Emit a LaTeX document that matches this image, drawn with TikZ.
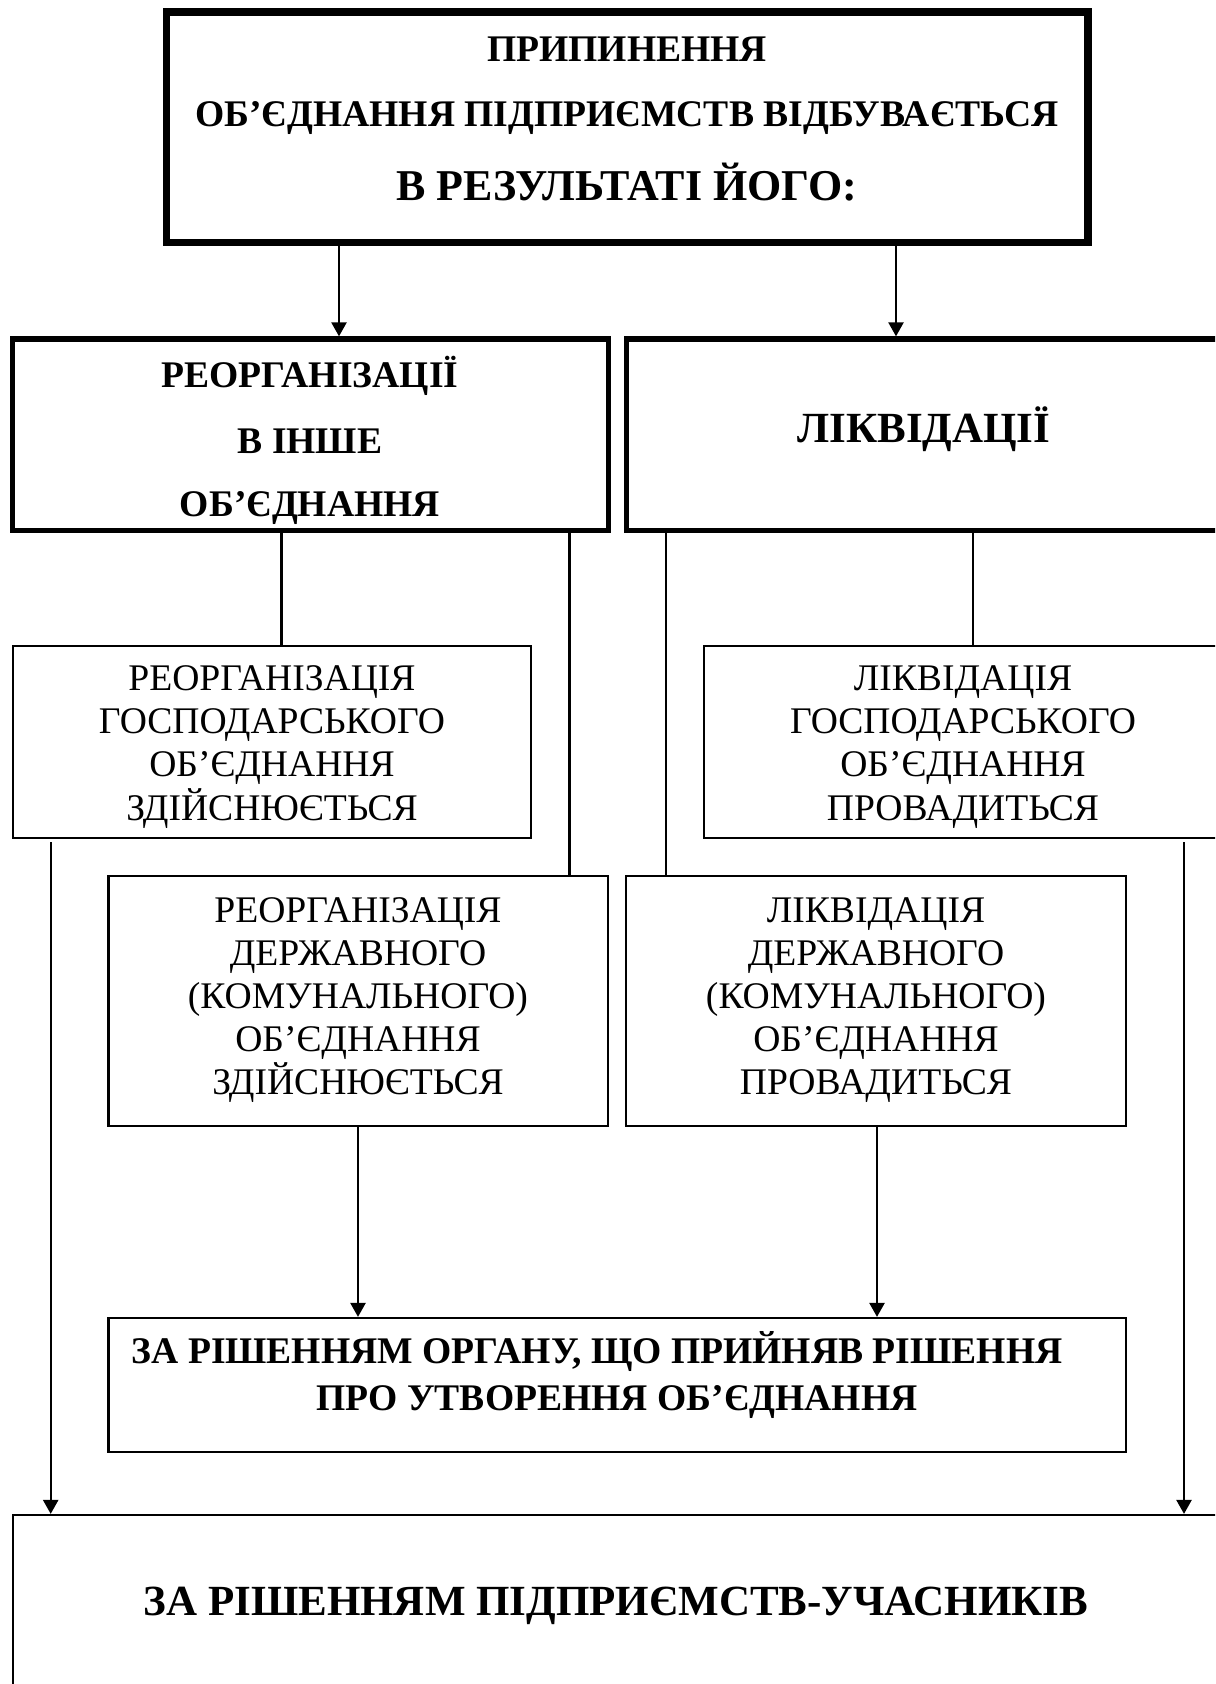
\documentclass[tikz,border=0pt]{standalone}
\usepackage{fontspec}
\setmainfont{Liberation Serif}
\usetikzlibrary{fit,arrows.meta}
\tikzset{
  boxA/.style={draw, line width=3.75pt, inner sep=0pt},
  boxB/.style={draw, line width=2.65pt, inner sep=0pt},
  boxC/.style={draw, line width=1.1pt, inner sep=0pt},
  bt/.style={font=\bfseries\fontsize{18.8}{22}\selectfont, anchor=base, inner sep=0pt},
  bbt/.style={font=\bfseries\fontsize{21.5}{25}\selectfont, anchor=base, inner sep=0pt},
  rt/.style={font=\fontsize{18.8}{22}\selectfont, anchor=base, inner sep=0pt},
  conn/.style={line width=1.2pt},
  arr/.style={conn, -{Triangle[width=7.5pt,length=7pt]}}
}
\begin{document}
\begin{tikzpicture}[x=0.5pt,y=-0.5pt]
\useasboundingbox (0,0) rectangle (1215,1684);
\clip (0,0) rectangle (1215,1684);
\fill[white] (0,0) rectangle (1215,1684);
% boxes
\node[boxA, fit={(166.5,12) (1088,242.5)}] (top) {};
\node[boxB, fit={(12.5,339) (608.3,530.5)}] (reorg) {};
\node[boxB, fit={(626.5,339) (1222,530.5)}] (liq) {};
\node[boxC, fit={(13,646) (531,838)}] (rgosp) {};
\node[boxC, fit={(704,646) (1222,838)}] (lgosp) {};
\node[boxC, fit={(108.5,876) (608,1126)}] (rderzh) {};
\node[boxC, fit={(626,876) (1126,1126)}] (lderzh) {};
\node[boxC, fit={(108.5,1318) (1126,1452)}] (organ) {};
\node[boxC, fit={(13,1515) (1222,1720)}] (members) {};
% texts
\node[bt] (topA) at (627,61.5) {ПРИПИНЕННЯ};
\node[bt] (topB) at (627,126.5) {ОБ’ЄДНАННЯ ПІДПРИЄМСТВ ВІДБУВАЄТЬСЯ};
\node[bbt, font=\bfseries\fontsize{22}{26}\selectfont] (topC) at (627,200.5) {В РЕЗУЛЬТАТІ ЙОГО:};
\node[bt] (reorgA) at (310,388) {РЕОРГАНІЗАЦІЇ};
\node[bt] (reorgB) at (310,453) {В ІНШЕ};
\node[bt] (reorgC) at (310,516.5) {ОБ’ЄДНАННЯ};
\node[bbt] (liqA) at (924,443) {ЛІКВІДАЦІЇ};
\node[rt] (rgA) at (272,690) {РЕОРГАНІЗАЦІЯ};
\node[rt] (rgB) at (272,733) {ГОСПОДАРСЬКОГО};
\node[rt] (rgC) at (272,776.5) {ОБ’ЄДНАННЯ};
\node[rt] (rgD) at (272,820) {ЗДІЙСНЮЄТЬСЯ};
\node[rt] (lgA) at (963,690) {ЛІКВІДАЦІЯ};
\node[rt] (lgB) at (963,733) {ГОСПОДАРСЬКОГО};
\node[rt] (lgC) at (963,776.5) {ОБ’ЄДНАННЯ};
\node[rt] (lgD) at (963,820) {ПРОВАДИТЬСЯ};
\node[rt] (rdA) at (358,922.5) {РЕОРГАНІЗАЦІЯ};
\node[rt] (rdB) at (358,965.5) {ДЕРЖАВНОГО};
\node[rt] (rdC) at (358,1008.5) {(КОМУНАЛЬНОГО)};
\node[rt] (rdD) at (358,1051.5) {ОБ’ЄДНАННЯ};
\node[rt] (rdE) at (358,1094.5) {ЗДІЙСНЮЄТЬСЯ};
\node[rt] (ldA) at (876,922.5) {ЛІКВІДАЦІЯ};
\node[rt] (ldB) at (876,965.5) {ДЕРЖАВНОГО};
\node[rt] (ldC) at (876,1008.5) {(КОМУНАЛЬНОГО)};
\node[rt] (ldD) at (876,1051.5) {ОБ’ЄДНАННЯ};
\node[rt] (ldE) at (876,1094.5) {ПРОВАДИТЬСЯ};
\node[bt] (orgA) at (597,1363.5) {ЗА РІШЕННЯМ ОРГАНУ, ЩО ПРИЙНЯВ РІШЕННЯ};
\node[bt] (orgB) at (617,1410.5) {ПРО УТВОРЕННЯ ОБ’ЄДНАННЯ};
\node[bbt] (memA) at (616,1615.5) {ЗА РІШЕННЯМ ПІДПРИЄМСТВ-УЧАСНИКІВ};
% connector columns
\coordinate (c1) at (339,0);
\coordinate (c2) at (896,0);
\coordinate (c3) at (281.5,0);
\coordinate (c4) at (569.5,0);
\coordinate (c5) at (665.7,0);
\coordinate (c6) at (973,0);
\coordinate (c7) at (358,0);
\coordinate (c8) at (877,0);
\coordinate (c9) at (50.7,0);
\coordinate (c10) at (1184,0);
% connectors
\draw[arr] (top.south -| c1) -- (reorg.north -| c1);
\draw[arr] (top.south -| c2) -- (liq.north -| c2);
\draw[conn] (reorg.south -| c3) -- (rgosp.north -| c3);
\draw[conn] (reorg.south -| c4) -- (rderzh.north -| c4);
\draw[conn] (liq.south -| c5) -- (lderzh.north -| c5);
\draw[conn] (liq.south -| c6) -- (lgosp.north -| c6);
\draw[arr] (rderzh.south -| c7) -- (organ.north -| c7);
\draw[arr] (lderzh.south -| c8) -- (organ.north -| c8);
\draw[arr] ([yshift=-1.5pt]rgosp.south -| c9) -- (members.north -| c9);
\draw[arr] ([yshift=-1.5pt]lgosp.south -| c10) -- (members.north -| c10);
\end{tikzpicture}
\end{document}
